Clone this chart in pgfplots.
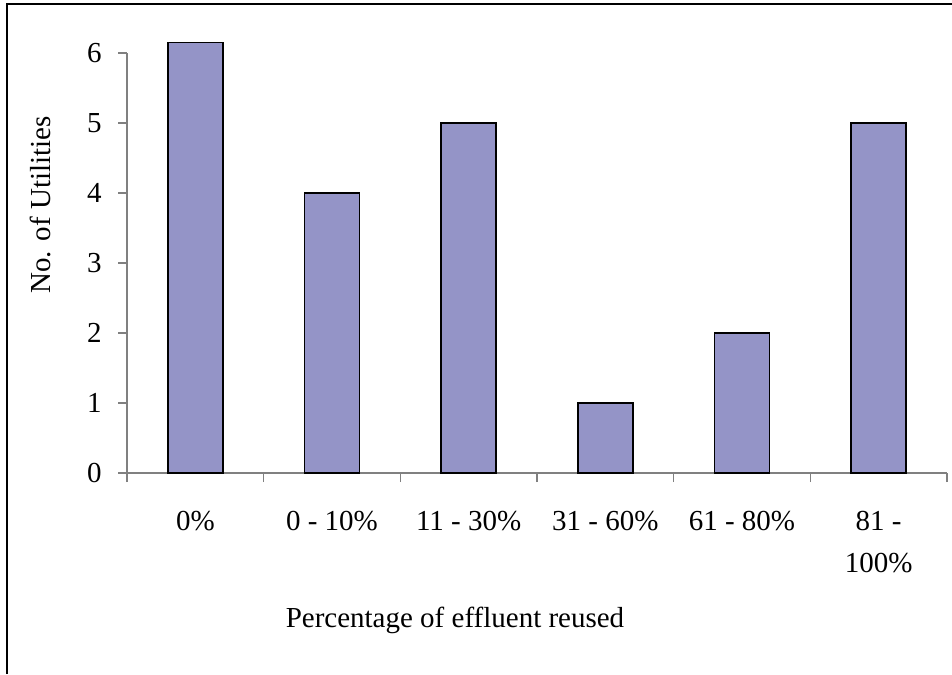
\documentclass[border=0pt]{standalone}
\usepackage{fontspec}
\setmainfont{Liberation Serif}
\usepackage{pgfplots}
\pgfplotsset{compat=1.18}
\definecolor{barfill}{RGB}{148,148,199}
\definecolor{axisgray}{RGB}{128,128,128}
\begin{document}
\begin{tikzpicture}[font=\fontsize{14.5}{21}\selectfont]
\useasboundingbox (0,0) rectangle (476pt,337pt);
% outer frame (only left and top edges are inside the picture)
\draw[line width=1pt] (3.25pt,0) -- (3.25pt,334.75pt) -- (476pt,334.75pt);
\begin{axis}[
    at={(63.5pt,100.5pt)}, anchor=south west,
    scale only axis, width=410pt, height=210pt,
    xmin=-0.5, xmax=5.5, ymin=0, ymax=6,
    clip=false,
    ybar, bar width=27.5pt,
    axis x line*=bottom, axis y line*=left,
    axis line style={axisgray, line width=0.6pt, -},
    tick align=outside,
    major tick length=4.5pt,
    tick style={axisgray, line width=0.6pt},
    /pgf/number format/assume math mode=true,
    ytick={0,...,6},
    yticklabel style={anchor=east, inner sep=0pt, xshift=-8pt},
    xtick={-0.5,0.5,...,5.5},
    xticklabels={},
    extra x ticks={0,...,5},
    extra x tick labels={0\%, 0 - 10\%, 11 - 30\%, 31 - 60\%, 61 - 80\%,
        {\begin{tabular}[t]{@{}c@{}}81 -\\100\%\end{tabular}}},
    extra x tick style={major tick length=0pt,
        xticklabel style={anchor=base, inner sep=0pt, yshift=-28.5pt}},
    ylabel={No. of Utilities},
    ylabel style={at={(axis description cs:-0.106,0.638)}, anchor=center},
    xlabel={Percentage of effluent reused},
    xlabel style={at={(axis description cs:0.4,-0.369)}, anchor=base},
]
\addplot[fill=barfill, draw=black, line width=0.8pt]
    coordinates {(0,6.15) (1,4) (2,5) (3,1) (4,2) (5,5)};
\end{axis}
\end{tikzpicture}
\end{document}
